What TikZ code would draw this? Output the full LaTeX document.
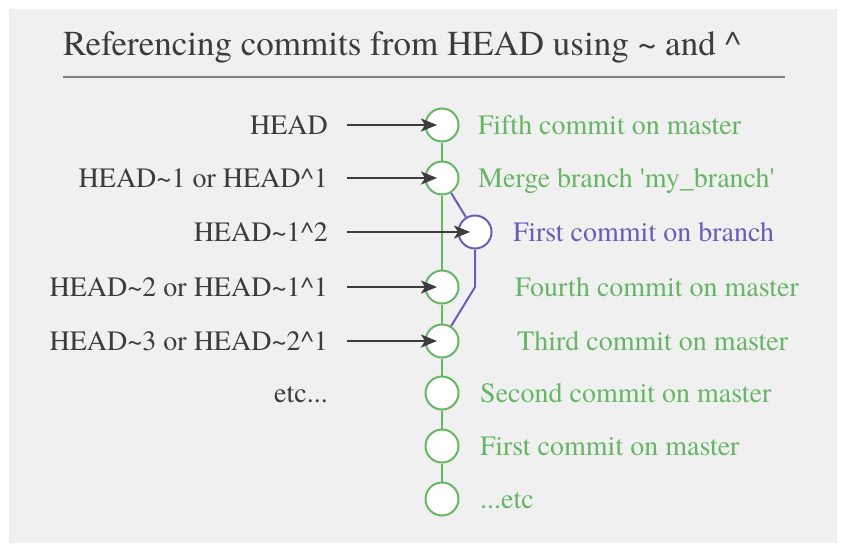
\documentclass[tikz,border=0pt]{standalone}
\usepackage{fontspec}
\IfFontExistsTF{texgyretermes-regular.otf}{%
	\setmainfont{texgyretermes}[Extension=.otf, UprightFont=*-regular, BoldFont=*-bold]}{%
	\setmainfont{Liberation Serif}}
\usetikzlibrary{positioning, arrows.meta}
\definecolor{panelgray}{RGB}{240, 240, 240}
\definecolor{commitgreen}{RGB}{102, 182, 102}
\definecolor{branchpurple}{RGB}{104, 94, 184}
\definecolor{textgray}{RGB}{60, 60, 60}
\definecolor{rulegray}{RGB}{128, 128, 128}

\begin{document}
\begin{tikzpicture}[x=1pt, y=1pt,
		commit/.style={circle, draw=commitgreen, line width=2pt, fill=white, minimum size=33pt, inner sep=0pt},
		branchcommit/.style={commit, draw=branchpurple},
		ref/.style={font=\fontsize{28}{32}\selectfont, text=textgray, inner sep=0pt, text height=18.5pt, text depth=0pt},
		msg/.style={ref, text=commitgreen},
		arrow/.style={-{Stealth[length=16pt, width=13pt, inset=4pt]}, line width=1.8pt, draw=textgray, shorten <=19pt, shorten >=5pt},
		trunk/.style={line width=2pt, draw=commitgreen},
		side/.style={line width=2pt, draw=branchpurple}
	]
	\useasboundingbox (0,0) rectangle (850,-555);
	\fill[panelgray] (9,-9) rectangle (837,-543);

	% Title
	\node[anchor=base west, inner sep=0pt, text=textgray, font=\fontsize{35}{40}\selectfont] (title) at (63,-55) {Referencing commits from HEAD using \textasciitilde{} and \textasciicircum};
	\draw[line width=1.5pt, draw=rulegray] (63,-77) -- (785,-77);

	% Commits
	\node[commit] (fifth) at (442,-125) {};
	\node[commit, below=18pt of fifth] (merge) {};
	\node[branchcommit, below=19pt of merge, xshift=33pt] (branch) {};
	\node[commit, below=74pt of merge] (fourth) {};
	\node[commit, below=19pt of fourth] (third) {};
	\node[commit, below=17pt of third] (second) {};
	\node[commit, below=18pt of second] (first) {};
	\node[commit, below=18pt of first] (older) {};
	\coordinate (kink) at (branch |- fourth);

	% Messages
	\node[msg, right=18.5pt of fifth] (msgfifth) {Fifth commit on master};
	\node[msg, right=18.5pt of merge] (msgmerge) {Merge branch \textquotesingle my\_branch\textquotesingle};
	\node[msg, text=branchpurple, right=20.5pt of branch] (msgbranch) {First commit on branch};
	\node[msg, right=55.5pt of fourth] (msgfourth) {Fourth commit on master};
	\node[msg, right=57.5pt of third] (msgthird) {Third commit on master};
	\node[msg, right=20.5pt of second] (msgsecond) {Second commit on master};
	\node[msg, right=20.5pt of first] (msgfirst) {First commit on master};
	\node[msg, right=20.5pt of older] (msgolder) {...etc};

	% References
	\node[ref, left=96.5pt of fifth] (reffifth) {HEAD};
	\node[ref, left=96.5pt of merge] (refmerge) {HEAD\textasciitilde1 or HEAD\textasciicircum1};
	\node[ref, left=129.5pt of branch] (refbranch) {HEAD\textasciitilde1\textasciicircum2};
	\node[ref, left=96.5pt of fourth] (reffourth) {HEAD\textasciitilde2 or HEAD\textasciitilde1\textasciicircum1};
	\node[ref, left=96.5pt of third] (refthird) {HEAD\textasciitilde3 or HEAD\textasciitilde2\textasciicircum1};
	\node[ref, left=96.5pt of second] (refsecond) {etc...};

	% Lines
	\draw[trunk] (fifth) -- (merge) -- (fourth) -- (third) -- (second) -- (first) -- (older);
	\draw[side] (merge) -- (branch) -- (kink) -- (third);

	% Arrows
	\draw[arrow] (reffifth.east) -- (fifth.center);
	\draw[arrow] (refmerge.east) -- (merge.center);
	\draw[arrow] (refbranch.east) -- (branch.center);
	\draw[arrow] (reffourth.east) -- (fourth.center);
	\draw[arrow] (refthird.east) -- (third.center);
\end{tikzpicture}
\end{document}
